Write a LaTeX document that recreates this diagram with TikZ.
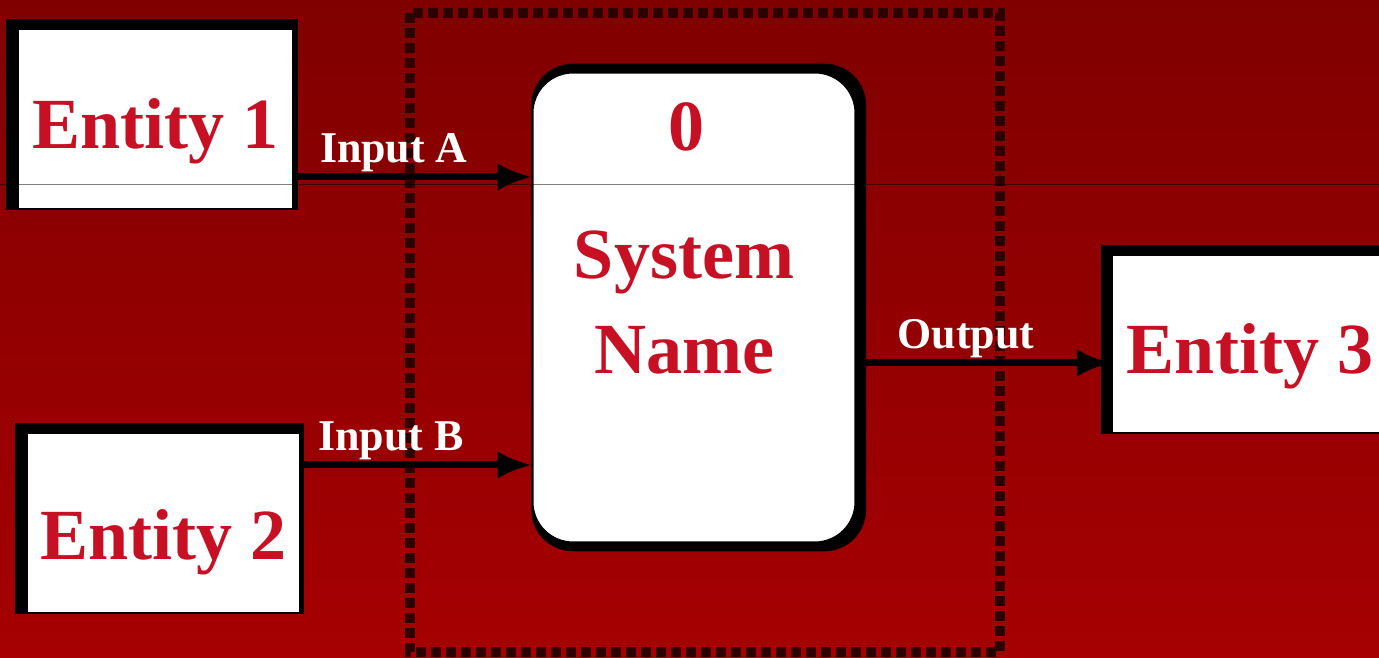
\documentclass[tikz,border=0pt]{standalone}
\usepackage{fontspec}
\setmainfont{Liberation Serif}
\usetikzlibrary{arrows.meta,shadows}

\definecolor{bgtop}{RGB}{128,0,0}
\definecolor{bgbot}{RGB}{166,0,2}
\definecolor{boxred}{RGB}{200,16,36}
\definecolor{edgedark}{RGB}{45,0,0}

\begin{document}
\begin{tikzpicture}[x=0.02cm, y=0.02cm,
    entity/.style={draw=black, line width=0.02cm, fill=white,
        minimum width=5.5cm, minimum height=3.6cm, inner sep=0pt,
        text=boxred, font=\bfseries\fontsize{41}{54}\selectfont,
        text height=1.2cm, text depth=0pt,
        drop shadow={shadow xshift=-0.07cm, shadow yshift=0.08cm,
            shadow scale=1.06, fill=black, opacity=1}},
    process/.style={draw=black, line width=0.02cm, fill=white,
        rounded corners=0.8cm, minimum width=6.44cm, minimum height=9.38cm,
        drop shadow={shadow xshift=0.09cm, shadow yshift=0cm,
            shadow scale=1.04, fill=black, opacity=1}},
    proctext/.style={text=boxred, font=\bfseries\fontsize{41}{54}\selectfont,
        align=center, inner sep=0pt},
    flow/.style={-{Latex[length=0.7cm, width=0.55cm]}, line width=0.14cm, black},
    flowlabel/.style={above, inner sep=1pt, text=white,
        font=\bfseries\fontsize{25}{30}\selectfont}]

    % --- Frame and background ---
    \useasboundingbox (0,0) rectangle (1379,658);
    \clip (0,0) rectangle (1379,658);
    \shade[top color=bgtop, bottom color=bgbot] (0,0) rectangle (1379,658);

    % --- System boundary ---
    \draw[edgedark, line width=0.2cm, dash pattern=on 0.2cm off 0.1cm]
        (410,645) rectangle (1000,6);

    % --- Entities and process ---
    \node[entity] (ent1) at (155.5,539) {Entity 1};
    \node[entity, minimum width=5.46cm, text height=1.48cm] (ent2) at (163.5,135) {Entity 2};
    \node[entity, minimum height=3.56cm] (ent3) at (1250,314) {Entity 3};

    \node[process] (sys) at (694,350.5) {};
    \node[proctext] (sysnum) at (686,531) {0};
    \node[proctext] (sysname) at (684,355.5) {System\\Name};

    % --- Data flows ---
    \coordinate (inA) at (0,481);
    \coordinate (inB) at (0,193);
    \coordinate (outp) at (0,295);

    \draw[flow] (ent1.east |- inA) -- node[flowlabel, pos=0.42] {Input A} (sys.west |- inA);
    \draw[flow] (ent2.east |- inB) -- node[flowlabel, pos=0.39] {Input B} (sys.west |- inB);
    \draw[flow] (sys.east |- outp) -- node[flowlabel, pos=0.43] {Output} (ent3.west |- outp);

    % --- Thin rule across the picture ---
    \draw[black, opacity=0.5, line width=0.02cm] (0,473) -- (1379,473);

\end{tikzpicture}
\end{document}
